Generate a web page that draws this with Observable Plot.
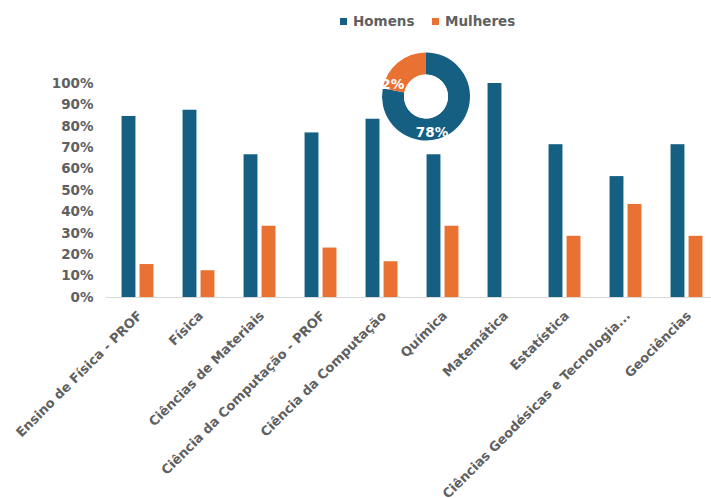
<!DOCTYPE html>
<html>
<head>
<meta charset="utf-8">
<script src="https://cdn.jsdelivr.net/npm/d3@7"></script>
<script src="https://cdn.jsdelivr.net/npm/@observablehq/plot@0.6"></script>
<style>
  html, body { margin: 0; padding: 0; background: #fff; }
  #wrap { width: 711px; height: 498px; position: relative; overflow: hidden; font-family: "DejaVu Sans", sans-serif; }
  #legend { position: relative; height: 40px; width: 711px; }
  .li { position: absolute; top: 12px; font-weight: bold; font-size: 13.5px; color: #606060; line-height: 18px; }
  .sw { display: inline-block; width: 7px; height: 7px; margin-right: 6px; vertical-align: 1px; }
</style>
</head>
<body>
<div id="wrap">
  <div id="legend"></div>
  <div id="chart"></div>
</div>
<script>
const categories = [
  "Ensino de Física - PROF",
  "Física",
  "Ciências de Materiais",
  "Ciência da Computação - PROF",
  "Ciência da Computação",
  "Química",
  "Matemática",
  "Estatística",
  "Ciências Geodésicas e Tecnologia...",
  "Geociências"
];
const seriesNames = ["Homens", "Mulheres"];
const seriesColors = ["#156082", "#E97132"];
const homens =   [84.6, 87.5, 66.7, 76.9, 83.3, 66.7, 100, 71.4, 56.5, 71.4];
const mulheres = [15.4, 12.5, 33.3, 23.1, 16.7, 33.3, 0,   28.6, 43.5, 28.6];
const yTicks = [0, 10, 20, 30, 40, 50, 60, 70, 80, 90, 100];
const donutValues = [78, 22];
const donutLabels = ["78%", "22%"];

const rows = categories.flatMap((c, i) => [
  {category: c, series: "Homens", value: homens[i]},
  {category: c, series: "Mulheres", value: mulheres[i]}
]);

const W = 711, H = 458;
const step = (717.5 - 106.5) / categories.length;
const half = step / 2;
const textColor = "#606060";

const plot = Plot.plot({
  width: W,
  height: H,
  marginLeft: 106,
  marginRight: 0,
  marginTop: 43,
  marginBottom: 201,
  style: {fontFamily: "DejaVu Sans, sans-serif", fontSize: "13.5px", fontWeight: "bold", color: textColor, background: "#fff"},
  x: {domain: categories, range: [106.5, 717.5], padding: 0, label: null},
  y: {domain: [0, 100], label: null},
  color: {domain: seriesNames, range: seriesColors},
  marks: [
    Plot.ruleY([0], {stroke: "#d9d9d9", strokeWidth: 1}),
    Plot.barY(rows.filter(d => d.series === "Homens"), {
      x: "category", y: "value", fill: "series",
      insetLeft: half - 16, insetRight: half + 2
    }),
    Plot.barY(rows.filter(d => d.series === "Mulheres"), {
      x: "category", y: "value", fill: "series",
      insetLeft: half + 2, insetRight: half - 16
    }),
    Plot.axisY({ticks: yTicks, tickFormat: d => d + "%", tickSize: 0, tickPadding: 13, fill: textColor, fontSize: 13.5, fontWeight: "bold", label: null}),
    Plot.axisX({tickSize: 0, tickRotate: -45, tickPadding: 16, fill: textColor, fontSize: 13, fontWeight: "bold", label: null, dx: 2})
  ]
});

document.getElementById("chart").appendChild(plot);

// Donut (drawn with d3, colours from Plot's color scale)
const color = plot.scale("color");
const svg = d3.select(plot);
const cx = 426, cy = 96.5 - 40;
const pie = d3.pie().sort(null)(donutValues);
const arc = d3.arc().innerRadius(22).outerRadius(44);
const g = svg.append("g").attr("transform", `translate(${cx},${cy})`);
g.selectAll("path").data(pie).join("path")
  .attr("d", arc)
  .attr("fill", (d, i) => color.apply(seriesNames[i]));
g.append("text").text(donutLabels[1]).attr("x", -38).attr("y", -8)
  .attr("fill", "#fff").attr("font-weight", "bold").attr("font-size", 13.5).attr("font-family", "DejaVu Sans, sans-serif");
g.append("text").text(donutLabels[0]).attr("x", 6).attr("y", 40)
  .attr("fill", "#fff").attr("font-weight", "bold").attr("font-size", 13.5).attr("font-family", "DejaVu Sans, sans-serif");
// hole drawn over the labels so the "%" is hidden as in the reference
g.append("circle").attr("r", 22).attr("fill", "#fff");

// Legend
const legend = d3.select("#legend");
const legendLeft = [340, 432];
seriesNames.forEach((s, i) => {
  const item = legend.append("div").attr("class", "li").style("left", legendLeft[i] + "px");
  item.append("span").attr("class", "sw").style("background", color.apply(s));
  item.append("span").text(s);
});
</script>
</body>
</html>
